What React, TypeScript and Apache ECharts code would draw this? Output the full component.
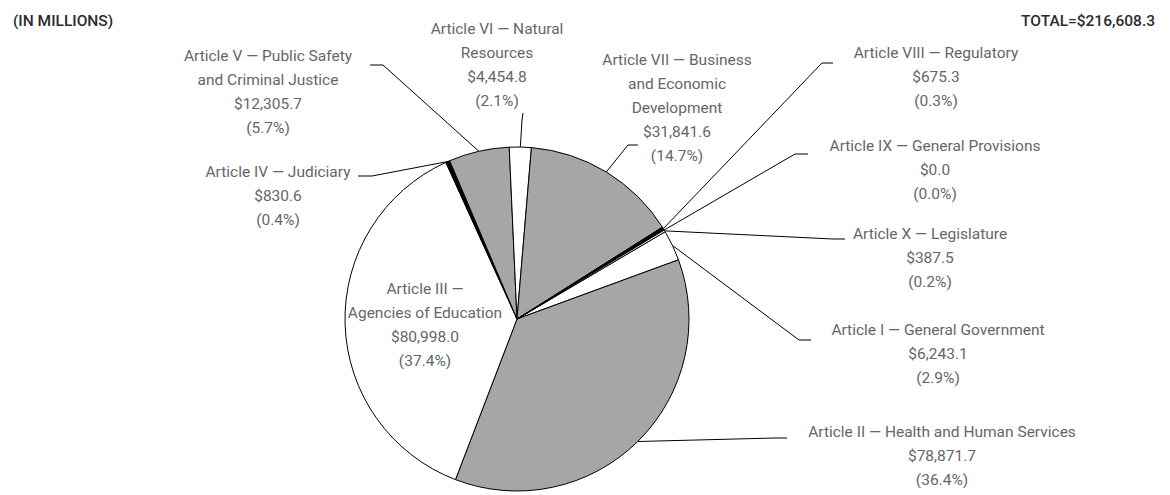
import React, { useEffect, useRef } from "react";
import * as echarts from "echarts";

const categories: string[] = [
  "Article I — General Government",
  "Article II — Health and Human Services",
  "Article III —\nAgencies of Education",
  "Article IV — Judiciary",
  "Article V — Public Safety\nand Criminal Justice",
  "Article VI — Natural\nResources",
  "Article VII — Business\nand Economic\nDevelopment",
  "Article VIII — Regulatory",
  "Article IX — General Provisions",
  "Article X — Legislature",
];
const values: number[] = [6243.1, 78871.7, 80998.0, 830.6, 12305.7, 4454.8, 31841.6, 675.3, 0.0, 387.5];
const sliceColors: string[] = ["#ffffff", "#a6a6a6", "#ffffff", "#000000", "#a6a6a6", "#ffffff", "#a6a6a6", "#000000", "#000000", "#ffffff"];
const unitText = "(IN MILLIONS)";
const totalText = "TOTAL=$216,608.3";

// label placement: [center x, first line center y]
const labelAnchors: number[][] = [
  [938, 330], [942, 432], [425, 289], [278, 172], [268, 56],
  [497, 29], [677, 60], [936, 53], [935, 146], [930, 234],
];
// leader line: [elbow x, elbow y, end x, end y] (null = no leader)
const leaderPoints: (number[] | null)[] = [
  [799, 340, 811, 340],
  [775, 438, 787, 438],
  null,
  [372, 176, 358, 176],
  [383, 65, 370, 65],
  [522, 120, 523, 113],
  [628, 145, 638, 145],
  [822, 63, 833, 63],
  [795, 154, 808, 154],
  [833, 239, 845, 239],
];

const FONT = "Roboto, 'Liberation Sans', sans-serif";
const LINE_H = 24;

export default function App() {
  const ref = useRef<HTMLDivElement>(null);
  useEffect(() => {
    if (!ref.current) return;
    const chart = echarts.init(ref.current, undefined, { renderer: "svg" });
    const total = values.reduce((a, b) => a + b, 0);
    const data = values.map((v, i) => ({
      name: categories[i],
      value: v,
      itemStyle: { color: sliceColors[i] },
      labelLine: { show: leaderPoints[i] !== null },
    }));
    chart.setOption({
      animation: false,
      title: [
        {
          text: unitText,
          left: 8,
          top: 8,
          textStyle: { fontFamily: FONT, fontSize: 15.5, fontWeight: 500, color: "#2b2b2b" },
        },
        {
          text: totalText,
          right: 10,
          top: 8,
          textStyle: { fontFamily: FONT, fontSize: 15.5, fontWeight: 500, color: "#2b2b2b" },
        },
      ],
      series: [
        {
          type: "pie",
          center: [517, 319],
          radius: 172,
          startAngle: 30.5,
          clockwise: true,
          avoidLabelOverlap: false,
          emphasis: { disabled: true },
          itemStyle: { borderColor: "#000000", borderWidth: 1 },
          label: {
            show: true,
            position: "outside",
            fontFamily: FONT,
            fontSize: 15.5,
            lineHeight: LINE_H,
            color: "#666666",
            align: "center",
            formatter: (p: any) => {
              const v = p.value as number;
              const money = "$" + v.toLocaleString("en-US", { minimumFractionDigits: 1, maximumFractionDigits: 1 });
              const pct = ((v / total) * 100).toFixed(1) + "%";
              return `${p.name}\n${money}\n(${pct})`;
            },
          },
          labelLine: {
            show: true,
            smooth: false,
            length: 10,
            length2: 10,
            lineStyle: { color: "#000000", width: 1 },
          },
          labelLayout: (params: any) => {
            const i = params.dataIndex;
            const [cx, cy] = labelAnchors[i];
            const res: any = {
              x: cx,
              y: cy - LINE_H / 2,
              align: "center",
              verticalAlign: "top",
            };
            const lp = leaderPoints[i];
            if (lp && params.labelLinePoints && params.labelLinePoints.length) {
              res.labelLinePoints = [params.labelLinePoints[0], [lp[0], lp[1]], [lp[2], lp[3]]];
            }
            return res;
          },
          data,
        },
      ],
    });
    return () => chart.dispose();
  }, []);
  return (
    <div
      ref={ref}
      style={{ position: "fixed", left: 0, top: 0, width: 1170, height: 495, background: "#ffffff" }}
    />
  );
}
